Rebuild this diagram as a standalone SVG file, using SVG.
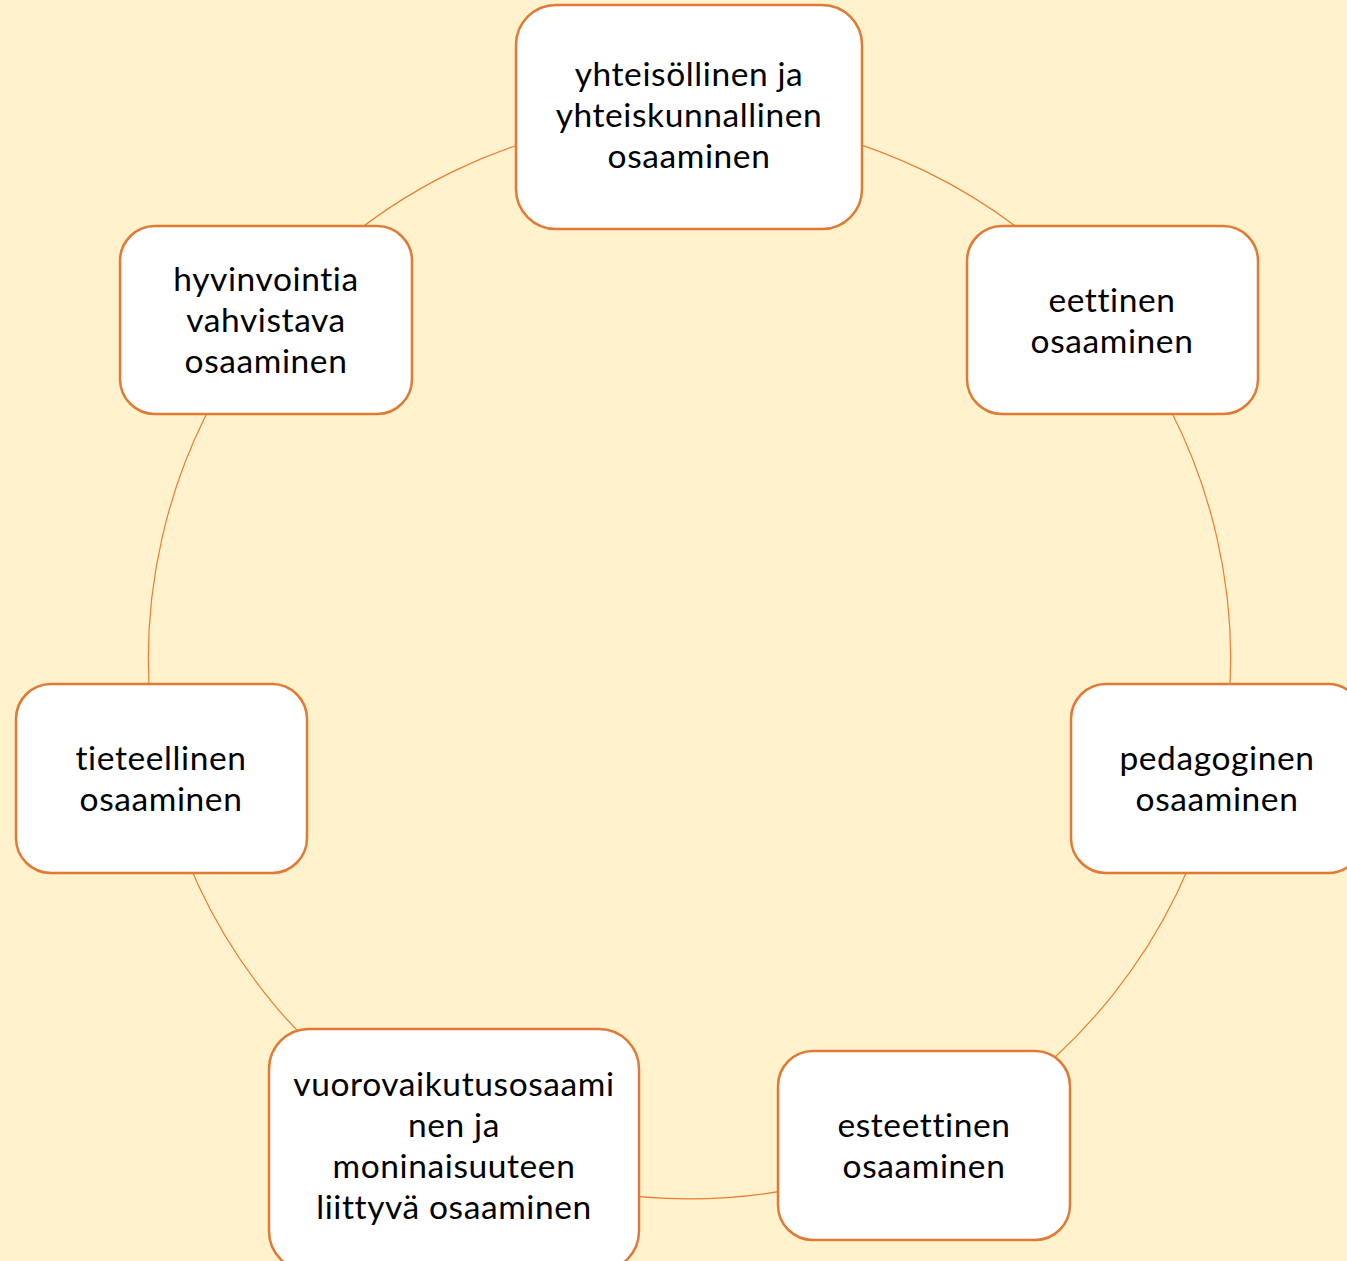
<svg xmlns="http://www.w3.org/2000/svg" width="1347" height="1261" viewBox="0 0 1347 1261">
<style>
.bg{fill:#FFF2CC}
.box{fill:#FFFFFF;stroke:#E07A35;stroke-width:2.5}
.arc{fill:none;stroke:#ED7D31;stroke-width:1.2}
.t{font-family:Lato,"Open Sans","Liberation Sans",sans-serif;font-size:33.5px;letter-spacing:0.6px;font-variant-ligatures:none;fill:#000;text-anchor:middle}
</style>
<rect class="bg" x="0" y="0" width="1347" height="1261"/>
<g id="connectors">
<path class="arc" d="M689.5,117 A541,541 0 0 1 1112.3,320.7"/>
<path class="arc" d="M1112.3,320.7 A541,541 0 0 1 1217,778.4"/>
<path class="arc" d="M1217,778.4 A541,541 0 0 1 924.2,1145.4"/>
<path class="arc" d="M924.2,1145.4 A541,541 0 0 1 454.8,1145.4"/>
<path class="arc" d="M454.8,1145.4 A541,541 0 0 1 162,778.4"/>
<path class="arc" d="M162,778.4 A541,541 0 0 1 266.7,320.7"/>
<path class="arc" d="M266.7,320.7 A541,541 0 0 1 689.5,117"/>
</g>
<g id="node-yhteisollinen">
<rect class="box" x="516" y="5" width="346" height="224" rx="40"/>
<text class="t" x="689" y="86">yhteisöllinen ja</text>
<text class="t" x="689" y="127">yhteiskunnallinen</text>
<text class="t" x="689" y="168">osaaminen</text>
</g>
<g id="node-eettinen">
<rect class="box" x="967" y="226" width="291" height="188" rx="35"/>
<text class="t" x="1112" y="312">eettinen</text>
<text class="t" x="1112" y="353">osaaminen</text>
</g>
<g id="node-pedagoginen">
<rect class="box" x="1071" y="684" width="292" height="189" rx="35"/>
<text class="t" x="1217" y="770">pedagoginen</text>
<text class="t" x="1217" y="811">osaaminen</text>
</g>
<g id="node-esteettinen">
<rect class="box" x="778" y="1051" width="292" height="189" rx="35"/>
<text class="t" x="924" y="1137">esteettinen</text>
<text class="t" x="924" y="1178">osaaminen</text>
</g>
<g id="node-vuorovaikutus">
<rect class="box" x="269" y="1029" width="370" height="242" rx="40"/>
<text class="t" x="454" y="1096">vuorovaikutusosaami</text>
<text class="t" x="454" y="1137">nen ja</text>
<text class="t" x="454" y="1178">moninaisuuteen</text>
<text class="t" x="454" y="1219">liittyvä osaaminen</text>
</g>
<g id="node-tieteellinen">
<rect class="box" x="16" y="684" width="291" height="189" rx="35"/>
<text class="t" x="161" y="770">tieteellinen</text>
<text class="t" x="161" y="811">osaaminen</text>
</g>
<g id="node-hyvinvointia">
<rect class="box" x="120" y="226" width="292" height="188" rx="35"/>
<text class="t" x="266" y="291">hyvinvointia</text>
<text class="t" x="266" y="332">vahvistava</text>
<text class="t" x="266" y="373">osaaminen</text>
</g>
</svg>
